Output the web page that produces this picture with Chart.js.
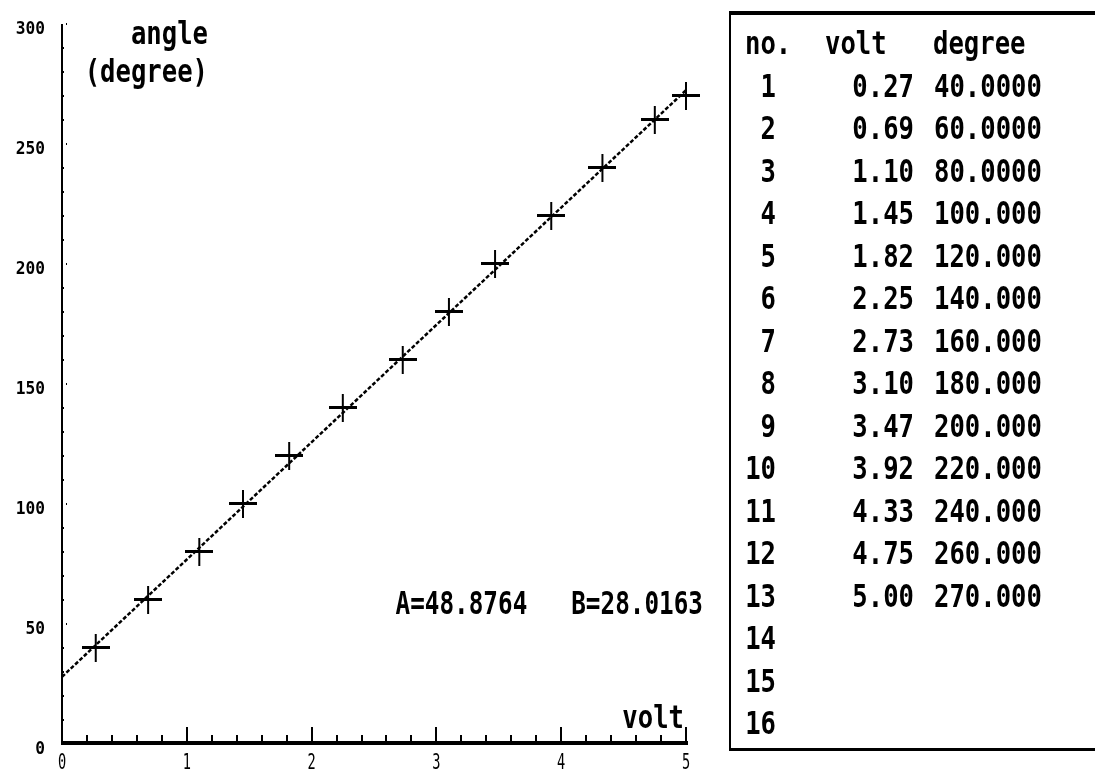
<!DOCTYPE html>
<html>
<head>
<meta charset="utf-8">
<script src="https://cdn.jsdelivr.net/npm/chart.js@4"></script>
<style>
  html, body { margin: 0; padding: 0; background: #fff; }
  #wrap { width: 1095px; height: 769px; position: relative; }
</style>
</head>
<body>
<div id="wrap"><canvas id="c"></canvas></div>
<script>
// ---- data ----
const volts   = [0.27, 0.69, 1.10, 1.45, 1.82, 2.25, 2.73, 3.10, 3.47, 3.92, 4.33, 4.75, 5.00];
const degrees = [40, 60, 80, 100, 120, 140, 160, 180, 200, 220, 240, 260, 270];
const fitX = [0, 5];
const fitY = [28.0, 272.4];
const xTicks = [0, 1, 2, 3, 4, 5];
const yTicks = [0, 50, 100, 150, 200, 250, 300];
const tableRows = 16;
const fitText = 'A=48.8764   B=28.0163';
const yTitle = ['angle', '(degree)'];
const xTitle = 'volt';
const tableHeader = ['no.', 'volt', 'degree'];

const FONT = '"DejaVu Sans Mono", "Liberation Mono", monospace';

function txt(ctx, s, x, y, size, sx, align, weight) {
  ctx.save();
  ctx.font = (weight || 'bold') + ' ' + size + 'px ' + FONT;
  ctx.fillStyle = '#000';
  ctx.textBaseline = 'alphabetic';
  ctx.textAlign = align || 'left';
  ctx.translate(x, y);
  ctx.scale(sx, 1);
  ctx.fillText(s, 0, 0);
  ctx.restore();
}

function fmtDeg(d) { return d < 100 ? d.toFixed(4) : d.toFixed(3); }

// cross marker image
const cross = document.createElement('canvas');
cross.width = 28; cross.height = 28;
(function () {
  const g = cross.getContext('2d');
  g.fillStyle = '#000';
  g.fillRect(0, 12, 28, 3);
  g.fillRect(13, 0, 2, 28);
})();

const axesPlugin = {
  id: 'axesPlugin',
  beforeDatasetsDraw(chart) {
    const ctx = chart.ctx;
    const xs = chart.scales.x, ys = chart.scales.y;
    const x0 = xs.getPixelForValue(0), x5 = xs.getPixelForValue(5);
    const y0 = ys.getPixelForValue(0), y300 = ys.getPixelForValue(300);
    ctx.save();
    ctx.fillStyle = '#000';
    // y axis line
    ctx.fillRect(Math.round(x0) - 1, Math.round(y300), 2, Math.round(y0 - y300));
    // y minor ticks every 10
    for (let v = 10; v <= 300; v += 10) {
      const py = Math.round(ys.getPixelForValue(v));
      if (v % 50 === 0) {
        ctx.fillRect(Math.round(x0) + 4, py - 1, 1, 2);
      } else {
        ctx.fillRect(Math.round(x0), py - 1, 2, 2);
      }
    }
    // x axis thick line
    ctx.fillRect(Math.round(x0) - 1, Math.round(y0) - 3, Math.round(x5 - x0) + 3, 4);
    // x ticks
    for (let i = 1; i <= 25; i++) {
      const v = i * 0.2;
      const px = Math.round(xs.getPixelForValue(v));
      const major = (i % 5 === 0);
      const h = major ? 14 : 6;
      ctx.fillRect(px - 1, Math.round(y0) - 3 - h, 2, h);
    }
    ctx.restore();

    // y tick labels
    yTicks.forEach(v => {
      txt(ctx, String(v), 45, ys.getPixelForValue(v) + 10, 18, 0.9, 'right', 'bold');
    });
    // x tick labels
    xTicks.forEach(v => {
      txt(ctx, String(v), xs.getPixelForValue(v), 769, 22, 0.62, 'center', 'normal');
    });
    // axis titles
    txt(ctx, yTitle[0], 208, 44, 32, 0.8, 'right');
    txt(ctx, yTitle[1], 208, 82, 32, 0.8, 'right');
    txt(ctx, xTitle, 684, 728, 32, 0.8, 'right');
    // fit text
    txt(ctx, fitText, 703, 614, 32, 0.76, 'right');

    // table box
    ctx.save();
    ctx.fillStyle = '#000';
    ctx.fillRect(729, 11, 1095 - 729, 4);
    ctx.fillRect(729, 11, 2, 750 - 11);
    ctx.fillRect(729, 748, 1095 - 729, 3);
    ctx.restore();
    // table text
    const base = 54, step = 42.5;
    txt(ctx, tableHeader[0], 745, base, 32, 0.8, 'left');
    txt(ctx, tableHeader[1], 825, base, 32, 0.8, 'left');
    txt(ctx, tableHeader[2], 933, base, 32, 0.8, 'left');
    for (let k = 1; k <= tableRows; k++) {
      const y = base + k * step;
      txt(ctx, String(k), 776, y, 32, 0.8, 'right');
      if (k <= volts.length) {
        txt(ctx, volts[k - 1].toFixed(2), 914, y, 32, 0.8, 'right');
        txt(ctx, fmtDeg(degrees[k - 1]), 934, y, 32, 0.8, 'left');
      }
    }
  }
};

new Chart(document.getElementById('c'), {
  type: 'scatter',
  data: {
    datasets: [
      {
        label: 'fit',
        type: 'line',
        data: fitX.map((x, i) => ({ x: x, y: fitY[i] })),
        borderColor: '#000',
        borderWidth: 2.5,
        borderDash: [4, 2],
        pointRadius: 0,
        fill: false,
        clip: false,
        order: 2
      },
      {
        label: 'data',
        data: volts.map((v, i) => ({ x: v, y: degrees[i] })),
        pointStyle: cross,
        pointRadius: 14,
        clip: false,
        order: 1
      }
    ]
  },
  options: {
    responsive: true,
    maintainAspectRatio: false,
    animation: false,
    events: [],
    layout: { padding: { left: 62, right: 409, top: 24, bottom: 25 } },
    plugins: { legend: { display: false }, tooltip: { enabled: false } },
    scales: {
      x: { type: 'linear', min: 0, max: 5, display: false },
      y: { type: 'linear', min: 0, max: 300, display: false }
    }
  },
  plugins: [axesPlugin]
});
</script>
</body>
</html>
